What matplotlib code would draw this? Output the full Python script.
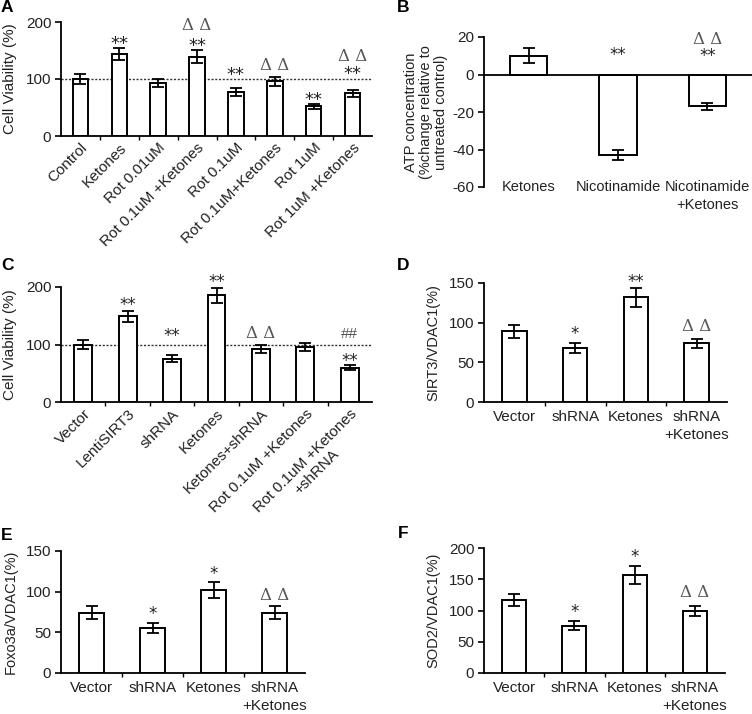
import numpy as np
import matplotlib
matplotlib.use("Agg")
from matplotlib import pyplot as plt

plt.rcParams['font.family'] = ['Liberation Sans', 'DejaVu Sans']
plt.rcParams['font.size'] = 10
plt.rcParams['axes.unicode_minus'] = False

# ---- data ----
a_labels = ["Control", "Ketones", "Rot 0.01uM", "Rot 0.1uM +Ketones", "Rot 0.1uM",
            "Rot 0.1uM+Ketones", "Rot 1uM", "Rot 1uM +Ketones"]
a_mean = [100, 144, 93, 139, 77, 96, 52, 75]
a_err = [8, 10, 7, 11, 7, 8, 4, 6]

b_labels = ["Ketones", "Nicotinamide", "Nicotinamide\n+Ketones"]
b_mean = [10, -43, -17]
b_err = [4, 2.5, 2]

c_labels = ["Vector", "LentiSIRT3", "shRNA", "Ketones", "Ketones+shRNA",
            "Rot 0.1uM +Ketones", "Rot 0.1uM +Ketones\n+shRNA"]
c_mean = [100, 149, 75, 186, 93, 95, 60]
c_err = [7, 10, 6, 13, 7, 7, 4]

d_labels = ["Vector", "shRNA", "Ketones", "shRNA\n+Ketones"]
d_mean = [89, 68, 132, 74]
d_err = [8, 6, 12, 6]

e_labels = ["Vector", "shRNA", "Ketones", "shRNA\n+Ketones"]
e_mean = [74, 55, 102, 74]
e_err = [8, 6, 10, 8]

f_labels = ["Vector", "shRNA", "Ketones", "shRNA\n+Ketones"]
f_mean = [117, 76, 157, 100]
f_err = [10, 7, 14, 8]

# significance marks: (bar index, text, y)
DD = "\u0394 \u0394"
a_marks = [(1, "**", 166), (3, "**", 162), (3, DD, 193), (4, "**", 111),
           (5, DD, 123), (6, "**", 67), (7, "**", 113), (7, DD, 140)]
b_marks = [(1, "**", 11.4), (2, "**", 10.7), (2, DD, 18.5)]
c_marks = [(1, "**", 172), (2, "**", 118), (3, "**", 213), (4, DD, 119),
           (6, "##", 119), (6, "**", 75)]
d_marks = [(1, "*", 88), (2, "**", 154), (3, DD, 95)]
e_marks = [(1, "*", 75), (2, "*", 124), (3, DD, 95)]
f_marks = [(1, "*", 101), (2, "*", 189), (3, DD, 129)]

W, H = 752, 714
fig = plt.figure(figsize=(W / 100, H / 100), dpi=100, facecolor="w")


def px_axes(left, right, top, bottom):
    return fig.add_axes([left / W, 1 - bottom / H, (right - left) / W, (bottom - top) / H])


def style(ax, n, ylim, yticks):
    ax.set_xlim(-0.5, n - 0.5)
    ax.set_ylim(*ylim)
    ax.set_yticks(yticks)
    for s in ["top", "right"]:
        ax.spines[s].set_visible(False)
    for s in ["left", "bottom"]:
        ax.spines[s].set_linewidth(1.3)
    ax.tick_params(axis="y", length=4, width=1.2, pad=3, labelsize=11, labelcolor="#222")
    ax.tick_params(axis="x", which="major", length=0, labelsize=11, labelcolor="#222")
    ax.set_xticks(np.arange(0.5, n - 0.5), minor=True)
    ax.tick_params(axis="x", which="minor", length=3, width=1.0)


def bars(ax, mean, err, width=0.4):
    x = np.arange(len(mean))
    ax.bar(x, mean, width=width, color="white", edgecolor="black", linewidth=1.4, zorder=2)
    ax.errorbar(x, mean, yerr=err, fmt="none", ecolor="black", elinewidth=1.3,
                capsize=4, capthick=1.3, zorder=3)
    return x


def marks(ax, mk, star_size=12):
    for i, t, y in mk:
        if "*" in t:
            # asterisks sit high in the em box, shift down so glyph centre is at y
            ax.annotate(t, (i, y), xytext=(0, -0.42 * star_size), textcoords="offset points",
                        ha="center", va="baseline", fontsize=star_size, color="#222",
                        family=["DejaVu Sans"], annotation_clip=False)
        elif "#" in t:
            ax.text(i, y, t, ha="center", va="center", fontsize=11, color="#555")
        else:
            ax.text(i, y, t, ha="center", va="center", fontsize=12, color="#555",
                    family=["DejaVu Serif"])


# ---- A ----
ax = px_axes(61, 372, 22, 136)
x = bars(ax, a_mean, a_err)
style(ax, len(a_mean), (0, 200), [0, 100, 200])
ax.axhline(100, color="#333", lw=1.0, ls=(0, (1.5, 1.2)), zorder=1)
ax.set_xticks(x)
ax.set_xticklabels(a_labels, rotation=45, ha="right", rotation_mode="anchor")
ax.set_ylabel("Cell Viability (%)", fontsize=11, color="#222", labelpad=6)
marks(ax, a_marks, star_size=13)

# ---- B ----
ax = px_axes(484, 752, 37, 187)
x = bars(ax, b_mean, b_err, width=0.42)
style(ax, len(b_mean), (-60, 20), [-60, -40, -20, 0, 20])
ax.spines["bottom"].set_position(("data", 0))
ax.set_xticks([])
ax.set_xticks([], minor=True)
for i, lab in enumerate(b_labels):
    ax.text(i, -56.5, lab, ha="center", va="top", fontsize=10.5, color="#222", linespacing=1.35)
ax.set_ylabel("ATP concentration\n(%change relative to\nuntreated control)", fontsize=10.5,
              color="#222", labelpad=3, linespacing=1.1)
marks(ax, b_marks)

# ---- C ----
ax = px_axes(61, 372, 287, 402)
x = bars(ax, c_mean, c_err)
style(ax, len(c_mean), (0, 200), [0, 100, 200])
ax.axhline(100, color="#333", lw=1.0, ls=(0, (1.5, 1.2)), zorder=1)
ax.set_xticks(x)
ax.set_xticklabels(c_labels, rotation=45, ha="right", rotation_mode="anchor",
                   multialignment="center")
ax.set_ylabel("Cell Viability (%)", fontsize=11, color="#222", labelpad=6)
marks(ax, c_marks)

# ---- D ----
ax = px_axes(484, 727, 283, 402)
x = bars(ax, d_mean, d_err)
style(ax, len(d_mean), (0, 150), [0, 50, 100, 150])
ax.set_xticks(x)
ax.set_xticklabels(d_labels, linespacing=1.3)
ax.tick_params(axis="x", pad=6)
ax.set_ylabel("SIRT3/VDAC1(%)", fontsize=10.5, color="#222", labelpad=6)
marks(ax, d_marks)

# ---- E ----
ax = px_axes(61, 305, 551, 673)
x = bars(ax, e_mean, e_err)
style(ax, len(e_mean), (0, 150), [0, 50, 100, 150])
ax.set_xticks(x)
ax.set_xticklabels(e_labels, linespacing=1.3)
ax.tick_params(axis="x", pad=6)
ax.set_ylabel("Foxo3a/VDAC1(%)", fontsize=10.5, color="#222", labelpad=6)
marks(ax, e_marks)

# ---- F ----
ax = px_axes(484, 725, 548, 673)
x = bars(ax, f_mean, f_err)
style(ax, len(f_mean), (0, 200), [0, 50, 100, 150, 200])
ax.set_xticks(x)
ax.set_xticklabels(f_labels, linespacing=1.3)
ax.tick_params(axis="x", pad=6)
ax.set_ylabel("SOD2/VDAC1(%)", fontsize=10.5, color="#222", labelpad=6)
marks(ax, f_marks)

# panel letters
for lab, px, py in [("A", 7, 8), ("B", 403, 8), ("C", 7, 266), ("D", 403, 266),
                    ("E", 7, 535), ("F", 403, 534)]:
    fig.text(px / W, 1 - py / H, lab, fontsize=12.5, fontweight="bold", ha="center", va="center")

fig.savefig("out.png", dpi=100)
